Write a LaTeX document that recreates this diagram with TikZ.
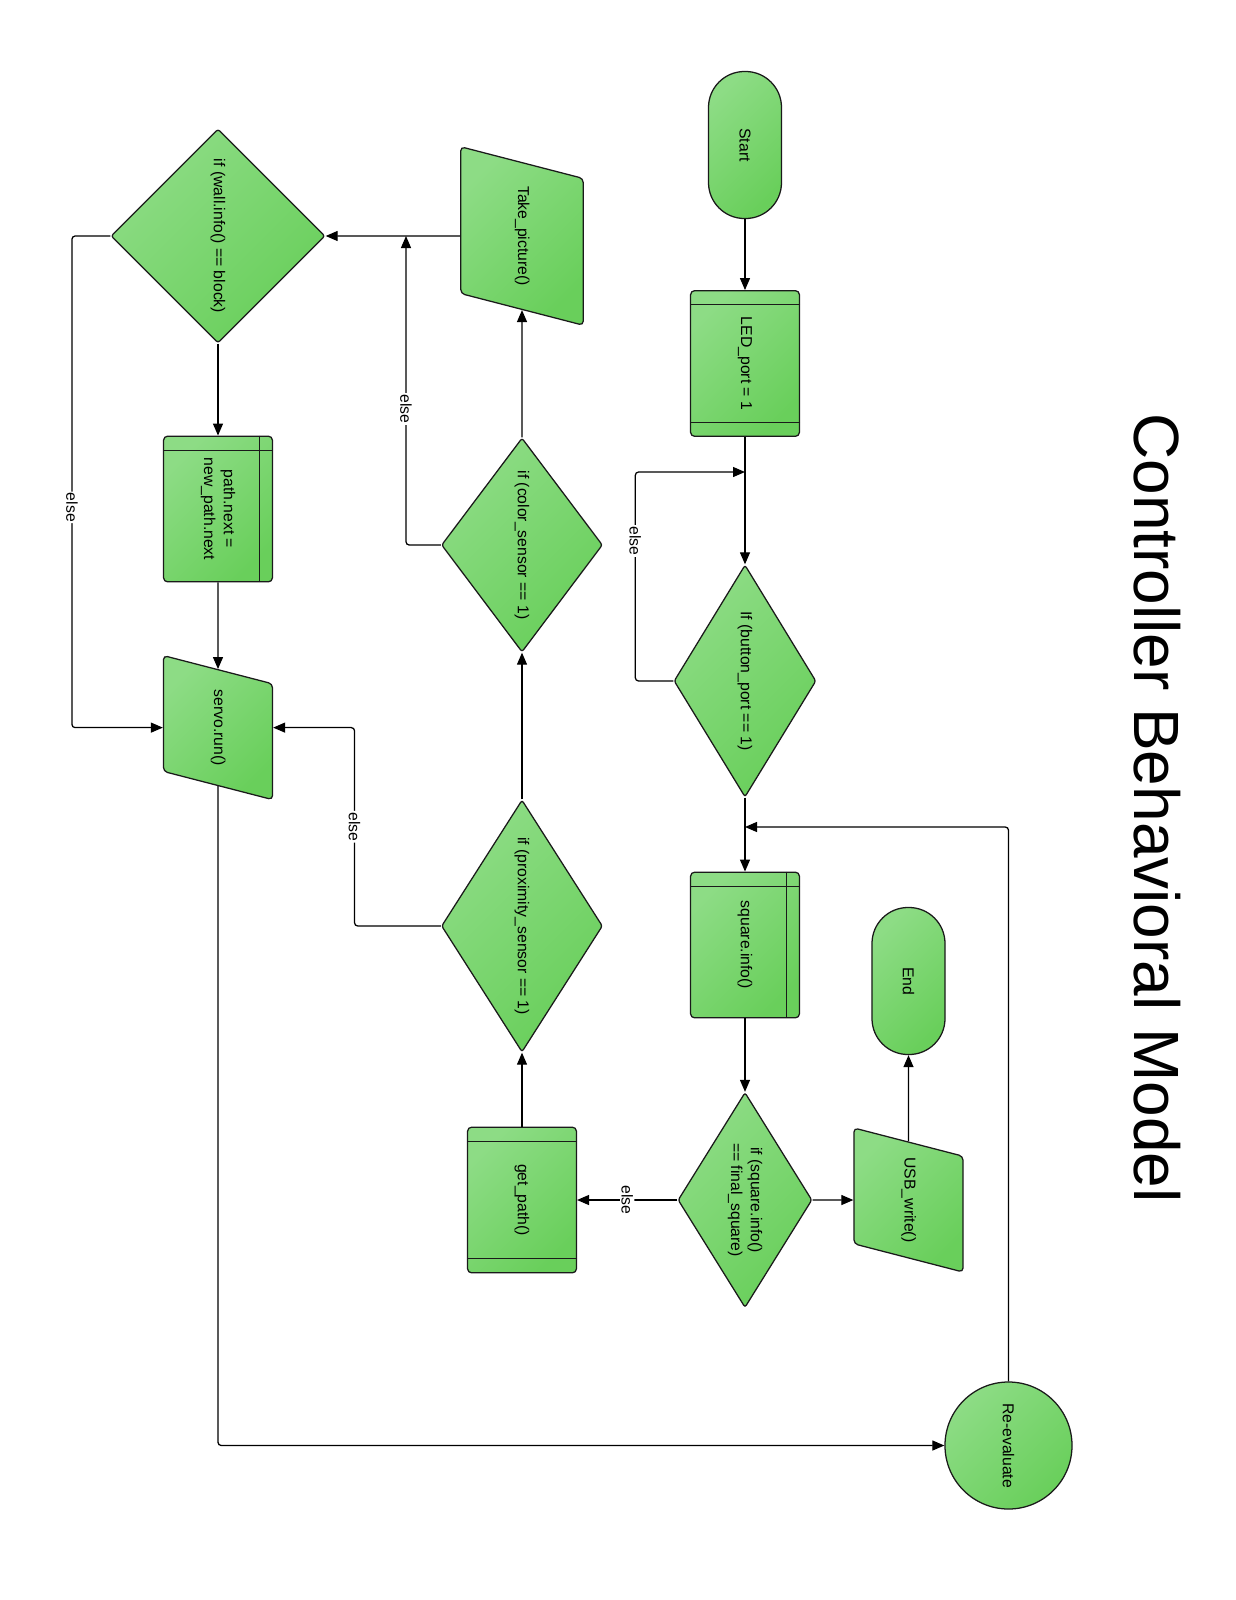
\documentclass[tikz,border=0pt]{standalone}
\usepackage{fontspec}
\setmainfont{Liberation Sans}
\usetikzlibrary{shapes.geometric, arrows.meta, calc}

\definecolor{boxlight}{HTML}{8DDC85}
\definecolor{boxdark}{HTML}{69CF5B}
\definecolor{boxline}{HTML}{1A1A1A}

\tikzset{
  box/.style={draw=boxline, line width=0.9pt, top color=boxlight, bottom color=boxdark,
    shading angle=45, inner sep=0pt, align=center, font=\fontsize{11.2pt}{14pt}\selectfont},
  term/.style={box, rectangle, rounded corners=0.9cm, minimum width=3.675cm, minimum height=1.825cm},
  proc/.style={box, rectangle, rounded corners=0.1cm, minimum width=3.64cm, minimum height=2.72cm},
  decide/.style={box, diamond, rounded corners=0.06cm},
  io/.style={box, trapezium, trapezium left angle=75.5, trapezium right angle=104.5,
    trapezium stretches body, rounded corners=0.1cm, text height=0.3cm, text depth=0.1cm,
    inner xsep=0pt, inner ysep=1.1625cm, minimum width=3.6cm},
  inner/.style={draw=boxline, line width=0.9pt},
  flow/.style={-{Triangle[length=0.3cm,width=0.25cm]}, line width=0.9pt, rounded corners=0.08cm},
  lbl/.style={fill=white, inner sep=1pt, font=\fontsize{11.2pt}{13pt}\selectfont},
  heading/.style={anchor=base, inner sep=0pt, font=\fontsize{45.5pt}{50pt}\selectfont}
}

\begin{document}
\begin{tikzpicture}[x=0.025cm, y=0.025cm, rotate=-90, transform shape]
  \useasboundingbox (0,0) rectangle (1600,1236);

  \node[heading] (title) at (808,1134) {Controller Behavioral Model};

  % main line
  \node[term] (start) at (145,745) {Start};
  \node[proc] (led) at (363.5,745) {LED\_port = 1};
  \node[decide, aspect=1.63, minimum width=5.8cm, minimum height=3.55cm] (button) at (681,745) {If (button\_port == 1)};
  \node[proc] (square) at (945,745) {square.info()};
  \node[decide, aspect=1.6, minimum width=5.375cm, minimum height=3.35cm] (final) at (1200,745) {if (square.info()\\== final\_square)};
  \node[io] (usb) at (1200,908.5) {USB\_write()};
  \node[term] (end) at (981,908.5) {End};
  \node[box, circle, minimum size=3.175cm] (reeval) at (1445.5,1008.5) {Re-evaluate};

  % sensors
  \node[proc] (getpath) at (1200,522) {get\_path()};
  \node[decide, aspect=1.565, minimum width=6.3cm, minimum height=4.025cm] (prox) at (926,522) {if (proximity\_sensor == 1)};
  \node[decide, aspect=1.33, minimum width=5.35cm, minimum height=4.025cm] (color) at (545,522) {if (color\_sensor == 1)};
  \node[io, inner ysep=1.33cm, minimum width=4.46cm] (take) at (236,522) {Take\_picture()};

  % path handling
  \node[decide, aspect=1, minimum width=5.35cm, minimum height=5.35cm] (wall) at (236,218) {if (wall.info() == block)};
  \node[proc] (pathnext) at (509,218) {path.next =\\new\_path.next};
  \node[io] (servo) at (727.6,218) {servo.run()};

  \foreach \n in {led,getpath} {
    \draw[inner] ($(\n.north west)!0.1!(\n.north east)$) -- ($(\n.south west)!0.1!(\n.south east)$);
    \draw[inner] ($(\n.north east)!0.1!(\n.north west)$) -- ($(\n.south east)!0.1!(\n.south west)$);
  }
  \foreach \n in {square,pathnext} {
    \draw[inner] ($(\n.north west)!0.1!(\n.north east)$) -- ($(\n.south west)!0.1!(\n.south east)$);
    \draw[inner] ($(\n.north west)!0.125!(\n.south west)$) -- ($(\n.north east)!0.125!(\n.south east)$);
  }

  \coordinate (j1) at (472,745);
  \coordinate (j2) at (827,745);
  \coordinate (j3) at (236,406);

  \draw[flow] (start) -- (led);
  \draw[flow] (led) -- (button);
  \draw[flow] (button.south) -- ++(0,-38) -| node[lbl, pos=0.335] {else} (j1);
  \draw[flow] (button) -- (square);
  \draw[flow] (reeval.west) -| (j2);
  \draw[flow] (square) -- (final);
  \draw[flow] (final) -- (usb);
  \draw[flow] (usb) -- (end);
  \draw[flow] (final) -- node[lbl] {else} (getpath);
  \draw[flow] (getpath) -- (prox);
  \draw[flow] (prox) -- (color);
  \draw[flow] (color) -- (take);
  \draw[flow] (color.south) |- node[lbl, pos=0.72] {else} (j3);
  \draw[flow] (take) -- (wall);
  \draw[flow] (wall) -- (pathnext);
  \draw[flow] (pathnext) -- (servo);
  \draw[flow] (wall.south) -- ++(0,-38.4) -| node[lbl, pos=0.276] {else} (servo.south);
  \draw[flow] (prox.south) -- ++(0,-86.3) -| node[lbl, pos=0.25] {else} (servo.north);
  \draw[flow] (servo) -| (reeval);
\end{tikzpicture}
\end{document}
